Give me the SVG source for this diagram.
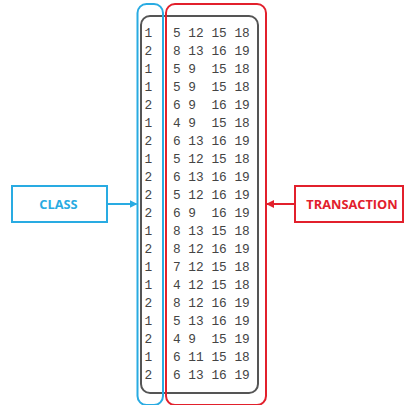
<svg xmlns="http://www.w3.org/2000/svg" width="405" height="405" viewBox="0 0 405 405">
  <defs>
    <style>
      .cell { font-family: "Liberation Mono", "DejaVu Sans Mono", monospace; font-size: 12.8px; fill: #444; }
      .lbl { font-family: "Open Sans", "Liberation Sans", sans-serif; font-size: 12.8px; font-weight: bold; text-anchor: middle; dominant-baseline: central; }
    </style>
    <marker id="ahBlue" markerWidth="8" markerHeight="8" refX="7" refY="4" orient="auto" markerUnits="userSpaceOnUse">
      <path d="M0,0 L8,4 L0,8 z" fill="#29abe2"/>
    </marker>
    <marker id="ahRed" markerWidth="8" markerHeight="8" refX="7" refY="4" orient="auto" markerUnits="userSpaceOnUse">
      <path d="M0,0 L8,4 L0,8 z" fill="#e2202c"/>
    </marker>
  </defs>
  <rect width="405" height="405" fill="#fff"/>

  <!-- data table frame -->
  <g id="table">
    <rect x="141" y="16" width="117" height="377" rx="9" fill="none" stroke="#555" stroke-width="2"/>
    <g id="class-col" class="cell">
      <text x="144.5" y="37">1</text>
      <text x="144.5" y="55">2</text>
      <text x="144.5" y="73">1</text>
      <text x="144.5" y="91">1</text>
      <text x="144.5" y="109">2</text>
      <text x="144.5" y="127">1</text>
      <text x="144.5" y="145">2</text>
      <text x="144.5" y="163">1</text>
      <text x="144.5" y="181">2</text>
      <text x="144.5" y="199">2</text>
      <text x="144.5" y="217">2</text>
      <text x="144.5" y="235">1</text>
      <text x="144.5" y="253">2</text>
      <text x="144.5" y="271">1</text>
      <text x="144.5" y="289">1</text>
      <text x="144.5" y="307">2</text>
      <text x="144.5" y="325">1</text>
      <text x="144.5" y="343">2</text>
      <text x="144.5" y="361">1</text>
      <text x="144.5" y="379">2</text>
    </g>
    <!-- single-digit items are padded with a no-break space to keep columns aligned -->
    <g id="items-col" class="cell">
      <text x="173" y="37">5 12 15 18</text>
      <text x="173" y="55">8 13 16 19</text>
      <text x="173" y="73">5 9&#160; 15 18</text>
      <text x="173" y="91">5 9&#160; 15 18</text>
      <text x="173" y="109">6 9&#160; 16 19</text>
      <text x="173" y="127">4 9&#160; 15 18</text>
      <text x="173" y="145">6 13 16 19</text>
      <text x="173" y="163">5 12 15 18</text>
      <text x="173" y="181">6 13 16 19</text>
      <text x="173" y="199">5 12 16 19</text>
      <text x="173" y="217">6 9&#160; 16 19</text>
      <text x="173" y="235">8 13 15 18</text>
      <text x="173" y="253">8 12 16 19</text>
      <text x="173" y="271">7 12 15 18</text>
      <text x="173" y="289">4 12 15 18</text>
      <text x="173" y="307">8 12 16 19</text>
      <text x="173" y="325">5 13 16 19</text>
      <text x="173" y="343">4 9&#160; 15 19</text>
      <text x="173" y="361">6 11 15 18</text>
      <text x="173" y="379">6 13 16 19</text>
    </g>
  </g>

  <!-- highlight outlines -->
  <g id="class-outline">
    <rect x="137.5" y="4" width="25.5" height="401" rx="9" fill="none" stroke="#29abe2" stroke-width="2"/>
  </g>
  <g id="transaction-outline">
    <rect x="166" y="4" width="100" height="401" rx="9" fill="none" stroke="#e2202c" stroke-width="2"/>
  </g>

  <!-- callout labels -->
  <g id="class-label">
    <rect x="12" y="186" width="95" height="36" fill="#fff" stroke="#29abe2" stroke-width="2"/>
    <text class="lbl" x="58.5" y="204" fill="#29abe2">CLASS</text>
  </g>
  <g id="transaction-label">
    <rect x="295" y="186" width="108" height="36" fill="#fff" stroke="#e2202c" stroke-width="2"/>
    <text class="lbl" x="352" y="204" fill="#e2202c">TRANSACTION</text>
  </g>

  <g id="connectors">
    <line x1="107" y1="204" x2="136.5" y2="204" stroke="#29abe2" stroke-width="2" marker-end="url(#ahBlue)"/>
    <line x1="295" y1="204" x2="267" y2="204" stroke="#e2202c" stroke-width="2" marker-end="url(#ahRed)"/>
  </g>
</svg>
